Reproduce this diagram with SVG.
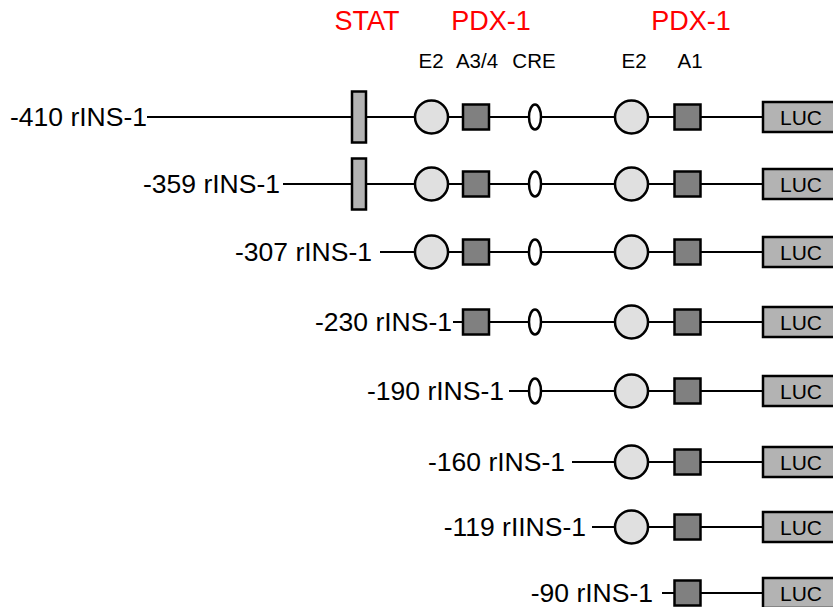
<svg xmlns="http://www.w3.org/2000/svg" width="833" height="607" viewBox="0 0 833 607">
<style>
.lbl{font-family:"Liberation Sans",Arial,sans-serif;font-size:26.5px;fill:#000}
.red{font-family:"Liberation Sans",Arial,sans-serif;font-size:27px;fill:#ff0000;text-anchor:middle}
.site{font-family:"Liberation Sans",Arial,sans-serif;font-size:20.5px;fill:#000;text-anchor:middle}
.luc{font-family:"Liberation Sans",Arial,sans-serif;font-size:21px;fill:#000;text-anchor:middle}
.ln{stroke:#000;stroke-width:2;fill:none}
.stat{fill:#b3b3b3;stroke:#000;stroke-width:2.5}
.e2{fill:#e0e0e0;stroke:#000;stroke-width:2.5}
.a{fill:#808080;stroke:#000;stroke-width:2.5}
.cre{fill:#fff;stroke:#000;stroke-width:2.5}
.lucb{fill:#b3b3b3;stroke:#000;stroke-width:2.5}
</style>
<defs>
<circle id="e2" r="16.5" class="e2"/>
<rect id="sq" x="-13" y="-12.5" width="26" height="25" class="a"/>
<ellipse id="cre" rx="6" ry="12.5" class="cre"/>
<rect id="stat" x="-7" y="-25.5" width="14" height="51" class="stat"/>
<g id="lucbox"><rect x="763" y="-15" width="80" height="30" class="lucb"/><text x="801" y="7.5" class="luc">LUC</text></g>
</defs>
<g id="header">
<text x="367" y="30" class="red">STAT</text>
<text x="491" y="30" class="red">PDX-1</text>
<text x="691" y="30" class="red">PDX-1</text>
<text x="431" y="68" class="site">E2</text>
<text x="477" y="68" class="site">A3/4</text>
<text x="534" y="68" class="site">CRE</text>
<text x="634" y="68" class="site">E2</text>
<text x="690" y="68" class="site">A1</text>
</g>
<g id="connectors">
<line x1="147" y1="117" x2="763" y2="117" class="ln"/>
<line x1="283" y1="184" x2="763" y2="184" class="ln"/>
<line x1="380" y1="252" x2="763" y2="252" class="ln"/>
<line x1="453" y1="322" x2="763" y2="322" class="ln"/>
<line x1="509" y1="391" x2="763" y2="391" class="ln"/>
<line x1="572" y1="462" x2="763" y2="462" class="ln"/>
<line x1="592" y1="527" x2="763" y2="527" class="ln"/>
<line x1="662" y1="593" x2="763" y2="593" class="ln"/>
</g>
<g id="row1" transform="translate(0,117)">
<text x="147" y="9" class="lbl" text-anchor="end">-410 rINS-1</text>
<use href="#stat" x="359"/><use href="#e2" x="431.5"/><use href="#sq" x="476"/><use href="#cre" x="535"/><use href="#e2" x="631.5"/><use href="#sq" x="687.5"/><use href="#lucbox"/>
</g>
<g id="row2" transform="translate(0,184)">
<text x="280" y="9" class="lbl" text-anchor="end">-359 rINS-1</text>
<use href="#stat" x="359"/><use href="#e2" x="431.5"/><use href="#sq" x="476"/><use href="#cre" x="535"/><use href="#e2" x="631.5"/><use href="#sq" x="687.5"/><use href="#lucbox"/>
</g>
<g id="row3" transform="translate(0,252)">
<text x="372" y="9" class="lbl" text-anchor="end">-307 rINS-1</text>
<use href="#e2" x="431.5"/><use href="#sq" x="476"/><use href="#cre" x="535"/><use href="#e2" x="631.5"/><use href="#sq" x="687.5"/><use href="#lucbox"/>
</g>
<g id="row4" transform="translate(0,322)">
<text x="452" y="9" class="lbl" text-anchor="end">-230 rINS-1</text>
<use href="#sq" x="476"/><use href="#cre" x="535"/><use href="#e2" x="631.5"/><use href="#sq" x="687.5"/><use href="#lucbox"/>
</g>
<g id="row5" transform="translate(0,391)">
<text x="504" y="9" class="lbl" text-anchor="end">-190 rINS-1</text>
<use href="#cre" x="535"/><use href="#e2" x="631.5"/><use href="#sq" x="687.5"/><use href="#lucbox"/>
</g>
<g id="row6" transform="translate(0,462)">
<text x="565" y="9" class="lbl" text-anchor="end">-160 rINS-1</text>
<use href="#e2" x="631.5"/><use href="#sq" x="687.5"/><use href="#lucbox"/>
</g>
<g id="row7" transform="translate(0,527)">
<text x="586" y="9" class="lbl" text-anchor="end">-119 rIINS-1</text>
<use href="#e2" x="631.5"/><use href="#sq" x="687.5"/><use href="#lucbox"/>
</g>
<g id="row8" transform="translate(0,593)">
<text x="653" y="9" class="lbl" text-anchor="end">-90 rINS-1</text>
<use href="#sq" x="687.5"/><use href="#lucbox"/>
</g>
</svg>
